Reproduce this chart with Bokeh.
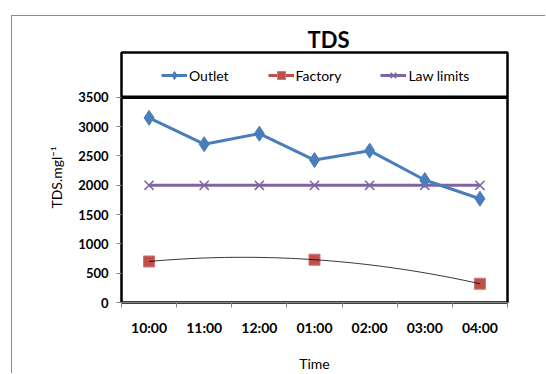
import numpy as np
from bokeh.plotting import figure
from bokeh.models import (Range1d, FixedTicker, LinearAxis, Legend, LegendItem, Span)
from bokeh.embed import file_html
from bokeh.resources import INLINE

# sampling times (categories on the x axis)
times = ["10:00", "11:00", "12:00", "01:00", "02:00", "03:00", "04:00"]
# total dissolved solids, mg/l
outlet = [3150, 2700, 2880, 2430, 2590, 2090, 1770]
law_limits = [2000, 2000, 2000, 2000, 2000, 2000, 2000]
factory_times = ["10:00", "01:00", "04:00"]
factory = [700, 730, 320]
y_ticks = [0, 500, 1000, 1500, 2000, 2500, 3000, 3500]

BLUE = "#4A7EBB"
RED = "#C0504D"
PURPLE = "#8064A2"
FONT = "Lato"

x_pos = list(range(1, len(times) + 1))
fx = [times.index(t) + 1 for t in factory_times]

# second-order polynomial trend line through the factory samples
coef = np.polyfit(fx, factory, 2)
trend_x = np.linspace(fx[0], fx[-1], 80)
trend_y = np.polyval(coef, trend_x)

# canvas geometry (pixels inside the chart border)
W, H = 534, 358
FRAME_L, FRAME_R = 109, 495
FRAME_T, DIVIDER, FRAME_B = 36, 81, 287   # legend strip sits between FRAME_T and DIVIDER
y_top = y_ticks[-1] * (FRAME_B - FRAME_T) / (FRAME_B - DIVIDER)

p = figure(width=W, height=H, x_range=Range1d(0.5, 7.5), y_range=Range1d(0, y_top),
           min_border_left=FRAME_L, min_border_right=W - FRAME_R,
           min_border_top=FRAME_T, min_border_bottom=H - FRAME_B,
           toolbar_location=None, output_backend="svg",
           x_axis_type=None, y_axis_type=None)
p.margin = (15, 0, 0, 11)
p.styles = {"border-left": "1px solid #8C8C8C", "border-top": "1px solid #8C8C8C"}
p.xgrid.visible = False
p.ygrid.visible = False
p.outline_line_color = "black"
p.outline_line_width = 2.5
p.background_fill_color = "white"
p.border_fill_color = "white"

p.title.text = "TDS"
p.title.align = "left"
p.title.text_font = FONT
p.title.text_font_style = "bold"
p.title.text_font_size = "22px"
p.title.text_color = "black"
p.title.offset = 186
p.title.standoff = 0

# y axis
yax = LinearAxis(ticker=FixedTicker(ticks=y_ticks))
yax.axis_line_color = None
yax.major_tick_line_color = "#868686"
yax.major_tick_out = 5
yax.major_tick_in = 0
yax.minor_tick_line_color = None
yax.major_label_text_font = FONT
yax.major_label_text_font_style = "bold"
yax.major_label_text_font_size = "13px"
yax.major_label_text_color = "black"
yax.major_label_standoff = 8
yax.axis_label = "TDS.mgl¯¹"
yax.axis_label_text_font = FONT
yax.axis_label_text_font_style = "normal"
yax.axis_label_text_font_size = "14px"
yax.axis_label_text_color = "black"
yax.axis_label_standoff = 10
p.add_layout(yax, "left")

# x axis: labels at category centres, tick marks at the boundaries
xax = LinearAxis(ticker=FixedTicker(ticks=x_pos,
                                    minor_ticks=[x - 0.5 for x in x_pos] + [x_pos[-1] + 0.5]))
xax.major_label_overrides = {x: t for x, t in zip(x_pos, times)}
xax.axis_line_color = "#868686"
xax.major_tick_line_color = None
xax.major_tick_out = 5
xax.major_tick_in = 0
xax.minor_tick_line_color = "#868686"
xax.minor_tick_out = 5
xax.minor_tick_in = 0
xax.major_label_text_font = FONT
xax.major_label_text_font_style = "bold"
xax.major_label_text_font_size = "14px"
xax.major_label_text_color = "black"
xax.major_label_standoff = 11
xax.axis_label = "Time"
xax.axis_label_text_font = FONT
xax.axis_label_text_font_style = "normal"
xax.axis_label_text_font_size = "14px"
xax.axis_label_text_color = "black"
xax.axis_label_standoff = 16
p.add_layout(xax, "below")

# line separating the legend strip from the data area
p.add_layout(Span(location=y_ticks[-1], dimension="width", line_color="black", line_width=3.5))

# series
law_line = p.line(x_pos, law_limits, line_color=PURPLE, line_width=3)
law_pts = p.scatter(x_pos, law_limits, marker="x", size=13, line_color=PURPLE, line_width=1.5)

out_line = p.line(x_pos, outlet, line_color=BLUE, line_width=3)
out_pts = p.scatter(x_pos, outlet, marker="diamond", size=15, fill_color=BLUE, line_color=BLUE)

fac_pts = p.scatter(fx, factory, marker="square", size=11, fill_color=RED, line_color="#D07573")
p.line(trend_x, trend_y, line_color="black", line_width=0.8)

# legend swatch line for the factory series (no visible line in the data area)
fac_key = p.line([np.nan], [np.nan], line_color=RED, line_width=3)

legend = Legend(items=[
    LegendItem(label="Outlet", renderers=[out_line, out_pts]),
    LegendItem(label="Factory", renderers=[fac_key, fac_pts]),
    LegendItem(label="Law limits", renderers=[law_line, law_pts]),
], orientation="horizontal", location=(40, 217))
legend.border_line_color = None
legend.background_fill_alpha = 0
legend.padding = 0
legend.margin = 0
legend.spacing = 39
legend.label_standoff = 2
legend.glyph_width = 26
legend.glyph_height = 20
legend.label_text_font = FONT
legend.label_text_font_size = "14px"
legend.label_text_color = "black"
p.add_layout(legend)

with open("out.html", "w") as f:
    f.write(file_html(p, INLINE))
